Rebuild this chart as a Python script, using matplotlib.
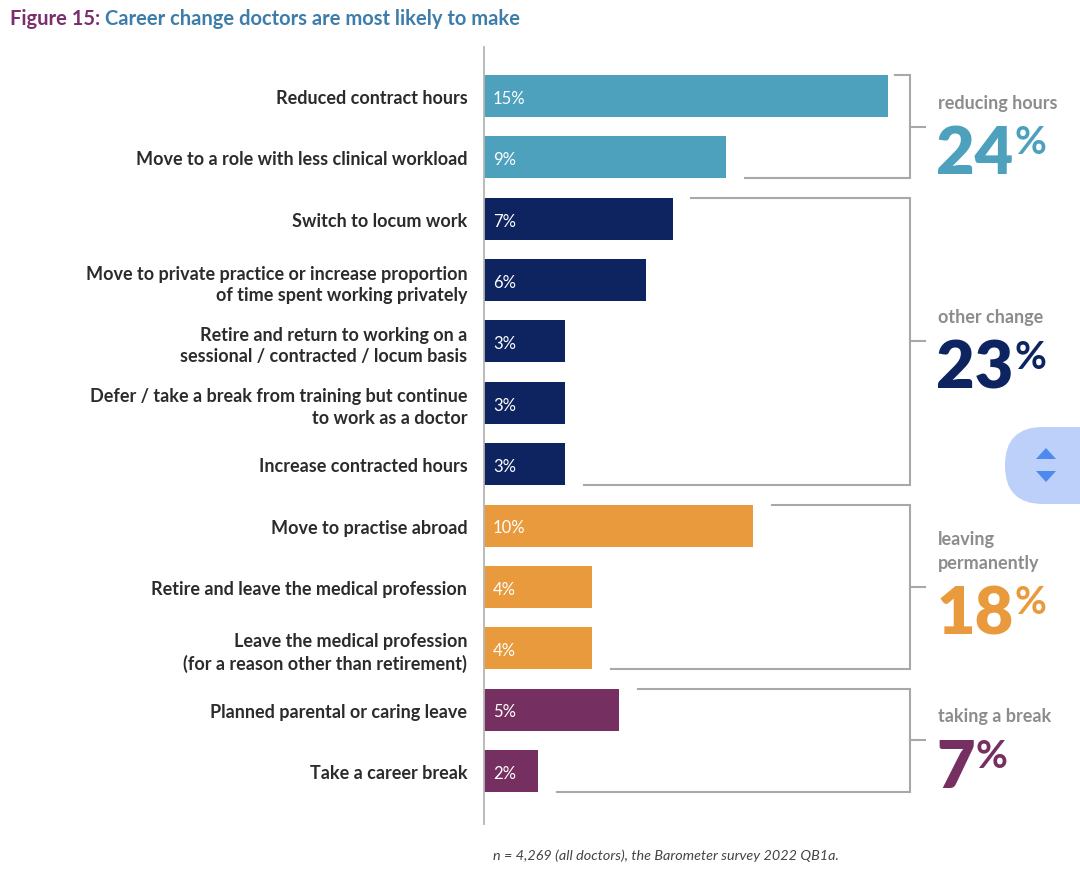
import matplotlib
matplotlib.use("Agg")
import matplotlib.pyplot as plt
from matplotlib.patches import FancyBboxPatch, Polygon

plt.rcParams["font.family"] = ["Lato", "DejaVu Sans"]

labels = [
    "Reduced contract hours",
    "Move to a role with less clinical workload",
    "Switch to locum work",
    "Move to private practice or increase proportion\nof time spent working privately",
    "Retire and return to working on a\nsessional / contracted / locum basis",
    "Defer / take a break from training but continue\nto work as a doctor",
    "Increase contracted hours",
    "Move to practise abroad",
    "Retire and leave the medical profession",
    "Leave the medical profession\n(for a reason other than retirement)",
    "Planned parental or caring leave",
    "Take a career break",
]
values = [15, 9, 7, 6, 3, 3, 3, 10, 4, 4, 5, 2]

group_names = ["reducing hours", "other change", "leaving\npermanently", "taking a break"]
group_totals = [24, 23, 18, 7]
group_sizes = [2, 5, 3, 2]
group_colors = ["#4DA1BD", "#0D2461", "#E99A3D", "#752F60"]

line_col = "#A8A8A8"
text_col = "#2B2B2B"

fig = plt.figure(figsize=(10.8, 8.95), dpi=100)
ax = fig.add_axes([484 / 1080, 70 / 895, 596 / 1080, 777 / 895])

bar_colors = []
for c, n in zip(group_colors, group_sizes):
    bar_colors += [c] * n

h = 0.684
ypos = list(range(len(values)))
ax.barh(ypos, values, height=h, color=bar_colors)
for y, v in zip(ypos, values):
    ax.text(0.33, y + 0.03, f"{v}%", color="white", fontsize=12, va="center", ha="left")

ax.set_xlim(0, 22.13)
ax.set_ylim(11.864, -0.7986)
ax.set_yticks(ypos)
ax.set_yticklabels(labels, fontsize=13, fontweight="bold", color=text_col,
                   linespacing=1.3, ha="right", multialignment="right")
ax.tick_params(axis="y", length=0, pad=12)
ax.set_xticks([])
for s in ["top", "right", "bottom"]:
    ax.spines[s].set_visible(False)
ax.spines["left"].set_color("#B5B5B5")
ax.spines["left"].set_linewidth(1.3)

# brackets and group totals
xb = 15.82
start = 0
fig.canvas.draw()
for name, total, n, col in zip(group_names, group_totals, group_sizes, group_colors):
    end = start + n - 1
    top = start - h / 2
    bot = end + h / 2
    mid = (top + bot) / 2
    x_top = min(values[start] + 0.7, xb - 0.55)
    x_bot = min(values[end] + 0.7, xb - 0.55)
    ax.plot([x_top, xb, xb, x_bot], [top, top, bot, bot], color=line_col, lw=1.5,
            solid_joinstyle="miter")
    ax.plot([xb, xb + 0.56], [mid, mid], color=line_col, lw=1.5)
    ax.text(16.86, mid - 0.26, name, fontsize=13, fontweight="bold", color="#8C8C8C",
            va="bottom", ha="left", linespacing=1.5)
    num = ax.text(16.79, mid - 0.06, str(total), fontsize=48, fontweight="heavy",
                  color=col, va="top", ha="left")
    ext = num.get_window_extent(fig.canvas.get_renderer())
    xs, ys = ax.transData.inverted().transform((ext.x1 + 1, ext.y1 - 1))
    ax.text(xs, ys, "%", fontsize=28, fontweight="bold", color=col, va="top", ha="left")
    start = end + 1

# title
t1 = fig.text(10 / 1080, 1 - 19 / 895, "Figure 15:", fontsize=14.5, fontweight="bold",
              color="#7B2E6B", va="center", ha="left")
e1 = t1.get_window_extent(fig.canvas.get_renderer())
fig.text((e1.x1 + 5) / 1080, 1 - 19 / 895, "Career change doctors are most likely to make",
         fontsize=14.5, fontweight="bold", color="#3D7DAB", va="center", ha="left")

fig.text(493 / 1080, 1 - 856 / 895,
         "n = 4,269 (all doctors), the Barometer survey 2022 QB1a.",
         fontsize=10.4, style="italic", color="#444444", va="center", ha="left")

# scroll button overlay
ov = fig.add_axes([0, 0, 1, 1], zorder=5)
ov.set_xlim(0, 1080)
ov.set_ylim(895, 0)
ov.axis("off")
ov.patch.set_alpha(0)
ov.add_patch(FancyBboxPatch((1005, 428), 140, 77, boxstyle="round,pad=0,rounding_size=38",
                            fc="#BCD0F9", ec="none"))
ov.add_patch(Polygon([(1036, 460), (1056, 460), (1046, 449)], closed=True, fc="#4D8AF0", ec="none"))
ov.add_patch(Polygon([(1036, 472), (1056, 472), (1046, 483)], closed=True, fc="#4D8AF0", ec="none"))

fig.savefig("out.png", dpi=100)
